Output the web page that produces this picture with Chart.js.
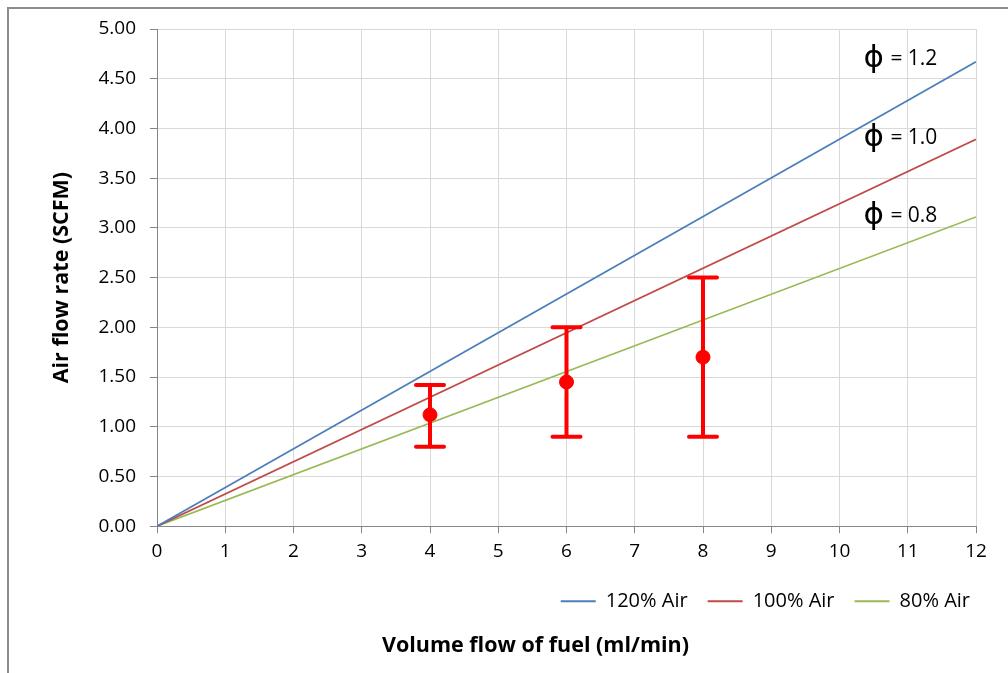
<!DOCTYPE html>
<html>
<head>
<meta charset="utf-8">
<script src="https://cdn.jsdelivr.net/npm/chart.js@4.4.0/dist/chart.umd.min.js"></script>
<style>
  html, body { margin: 0; padding: 0; background: #fff; }
  .frame {
    position: absolute; left: 7px; top: 7px;
    width: 999px; height: 664px;
    border-left: 2px solid #8c8c8c; border-top: 2px solid #8c8c8c;
  }
  canvas { display: block; }
</style>
</head>
<body>
<div class="frame"><canvas id="grafico" width="999" height="664"></canvas></div>
<script>
// fuel flow (ml/min) and air flow (SCFM) for each mix
const fuel = [0, 12];
const air120 = [0, 4.67];
const air100 = [0, 3.89];
const air80 = [0, 3.11];

// measured points with their ranges
const medX = [4, 6, 8];
const medMean = [1.12, 1.45, 1.70];
const medLow = [0.80, 0.90, 0.90];
const medHigh = [1.42, 2.00, 2.50];

const phiValues = ['1.2', '1.0', '0.8'];
const phiY = [4.70, 3.90, 3.12];

const xTicks = [0, 1, 2, 3, 4, 5, 6, 7, 8, 9, 10, 11, 12];
const yTicks = [0, 0.5, 1, 1.5, 2, 2.5, 3, 3.5, 4, 4.5, 5];

const FONT = "'Open Sans', 'Liberation Sans', sans-serif";

function pontos(xs, ys) {
    return xs.map((x, i) => ({ x: x, y: ys[i] }));
}

// draws the red error bars from the data arrays
const barrasErro = {
    id: 'barrasErro',
    afterDatasetsDraw(chart) {
        const { ctx, scales: { x, y } } = chart;
        ctx.save();
        ctx.strokeStyle = '#ff0000';
        ctx.lineWidth = 4;
        ctx.lineCap = 'round';
        medX.forEach((v, i) => {
            const px = x.getPixelForValue(v);
            const top = y.getPixelForValue(medHigh[i]);
            const bot = y.getPixelForValue(medLow[i]);
            ctx.beginPath();
            ctx.moveTo(px, top); ctx.lineTo(px, bot);
            ctx.moveTo(px - 14, top); ctx.lineTo(px + 14, top);
            ctx.moveTo(px - 14, bot); ctx.lineTo(px + 14, bot);
            ctx.stroke();
        });
        ctx.restore();
    }
};

// phi labels next to the lines
const rotulosPhi = {
    id: 'rotulosPhi',
    afterDraw(chart) {
        const { ctx, scales: { x, y } } = chart;
        ctx.save();
        ctx.fillStyle = '#000';
        ctx.textBaseline = 'middle';
        phiValues.forEach((v, i) => {
            const px = x.getPixelForValue(10.35);
            const py = y.getPixelForValue(phiY[i]);
            ctx.font = "31px 'DejaVu Sans'";
            ctx.fillText('\u03D5', px, py);
            ctx.font = "21px " + FONT;
            ctx.fillText('= ' + v, px + 27, py);
        });
        ctx.restore();
    }
};

// the x title sits a bit right of the canvas centre, like in the original
const moverTitulo = {
    id: 'moverTitulo',
    afterLayout(chart) {
        if (chart.titleBlock) {
            chart.titleBlock.left += 36;
            chart.titleBlock.right += 36;
        }
    }
};

const ctx = document.getElementById('grafico').getContext('2d');

new Chart(ctx, {
    type: 'scatter',
    data: {
        datasets: [
            {
                label: '120% Air',
                type: 'line',
                data: pontos(fuel, air120),
                borderColor: '#4a7ebb',
                backgroundColor: '#4a7ebb',
                borderWidth: 1.7,
                pointRadius: 0
            },
            {
                label: '100% Air',
                type: 'line',
                data: pontos(fuel, air100),
                borderColor: '#be4b48',
                backgroundColor: '#be4b48',
                borderWidth: 1.7,
                pointRadius: 0
            },
            {
                label: '80% Air',
                type: 'line',
                data: pontos(fuel, air80),
                borderColor: '#98b954',
                backgroundColor: '#98b954',
                borderWidth: 1.7,
                pointRadius: 0
            },
            {
                label: 'medido',
                data: pontos(medX, medMean),
                backgroundColor: '#ff0000',
                borderColor: '#ff0000',
                pointRadius: 7
            }
        ]
    },
    options: {
        responsive: false,
        animation: false,
        layout: { padding: { top: 20, right: 18, left: 0, bottom: 0 } },
        plugins: {
            legend: {
                position: 'bottom',
                align: 'end',
                labels: {
                    color: '#000',
                    font: { family: FONT, size: 20 },
                    boxWidth: 35,
                    boxHeight: 2,
                    padding: 20,
                    filter: (item) => item.text !== 'medido',
                    generateLabels: (chart) => chart.data.datasets.map((d, i) => ({
                        text: d.label,
                        fillStyle: d.borderColor,
                        strokeStyle: d.borderColor,
                        lineWidth: 0,
                        fontColor: '#000',
                        datasetIndex: i
                    }))
                }
            },
            title: {
                display: true,
                position: 'bottom',
                text: 'Volume flow of fuel (ml/min)',
                color: '#000',
                font: { family: FONT, size: 21.5, weight: 'bold' },
                padding: { top: 12, bottom: 14 }
            },
            tooltip: { enabled: false }
        },
        scales: {
            x: {
                type: 'linear',
                min: 0,
                max: 12,
                afterBuildTicks: (s) => { s.ticks = xTicks.map(v => ({ value: v })); },
                afterFit: (s) => { s.height = 45; },
                ticks: {
                    color: '#000',
                    font: { family: FONT, size: 19 },
                    padding: 7,
                    maxRotation: 0
                },
                grid: { color: '#d9d9d9', tickColor: '#868686', tickLength: 7 },
                border: { color: '#868686' }
            },
            y: {
                type: 'linear',
                min: 0,
                max: 5,
                afterBuildTicks: (s) => { s.ticks = yTicks.map(v => ({ value: v })); },
                afterFit: (s) => { s.width = 148; s.paddingTop = 0; s.paddingBottom = 0; },
                ticks: {
                    color: '#000',
                    font: { family: FONT, size: 19 },
                    padding: 14,
                    callback: (v) => Number(v).toFixed(2)
                },
                title: {
                    display: true,
                    text: 'Air flow rate (SCFM)',
                    color: '#000',
                    font: { family: FONT, size: 21.5, weight: 'bold' },
                    padding: { top: 40, bottom: 0 }
                },
                grid: { color: '#d9d9d9', tickColor: '#868686', tickLength: 7 },
                border: { color: '#868686' }
            },
            // empty right margin so the legend can reach further right
            margem: {
                type: 'linear',
                position: 'right',
                min: 0,
                max: 5,
                ticks: { display: false },
                grid: { display: false },
                border: { display: false },
                afterFit: (s) => { s.width = 14; }
            }
        }
    },
    plugins: [barrasErro, rotulosPhi, moverTitulo]
});
</script>
</body>
</html>
